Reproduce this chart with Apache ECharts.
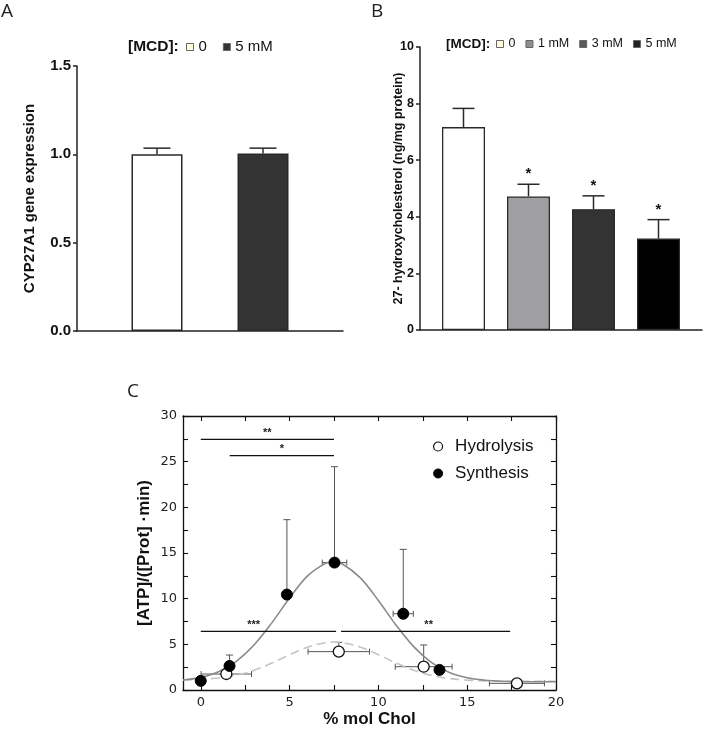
<!DOCTYPE html>
<html><head><meta charset="utf-8">
<script src="https://cdn.jsdelivr.net/npm/echarts@6/dist/echarts.min.js"></script>
<style>html,body{margin:0;padding:0;background:#fff}#c{width:704px;height:734px}</style>
</head><body><div id="c"></div>
<script>
// ---------- Panel A ----------
const aSeriesNames = ['0', '5 mM'];
const aValues = [1.00, 1.005];
const aErrors = [0.035, 0.03];
const aYTicks = [0, 0.5, 1.0, 1.5];
// ---------- Panel B ----------
const bSeriesNames = ['0', '1 mM', '3 mM', '5 mM'];
const bValues = [7.17, 4.72, 4.27, 3.23];
const bErrors = [0.66, 0.43, 0.47, 0.67];
const bSignif = ['', '*', '*', '*'];
const bYTicks = [0, 2, 4, 6, 8, 10];
// ---------- Panel C ----------
const hydroX = [1.44, 7.77, 12.55, 17.8];
const hydroY = [1.75, 4.2, 2.55, 0.73];
const hydroXErr = [1.42, 1.73, 1.6, 1.55];
const hydroYErr = [0, 1.02, 2.38, 0];
const synthX = [0, 1.62, 4.85, 7.53, 11.4, 13.44];
const synthY = [1.0, 2.63, 10.45, 13.95, 8.35, 2.2];
const synthXErr = [0, 0, 0, 0.69, 0.57, 0];
const synthYErr = [0, 1.2, 8.2, 10.5, 7.05, 0];
const fitX = [-1, 0, 1, 2, 3, 4, 5, 6, 7, 7.5, 8, 9, 10, 11, 12, 13, 14, 15, 16, 17, 18, 19, 20];
const synthFitY = [1.09, 1.38, 2.0, 3.14, 4.93, 7.35, 10.07, 12.46, 13.84, 14.0, 13.77, 12.25, 9.8, 7.09, 4.72, 3.0, 1.92, 1.34, 1.07, 0.95, 0.91, 0.9, 0.9];
const hydroFitY = [1.1, 1.18, 1.32, 1.62, 2.16, 2.95, 3.86, 4.69, 5.18, 5.25, 5.18, 4.69, 3.86, 2.95, 2.16, 1.6, 1.26, 1.08, 1.0, 0.96, 0.95, 0.95, 0.95];
const sigX1 = [0, 1.63, 0, 7.9];
const sigX2 = [7.5, 7.5, 7.62, 17.42];
const sigY = [27.45, 25.66, 6.42, 6.42];
const sigLabel = ['**', '*', '***', '**'];
const sigLabelX = [3.75, 4.57, 2.98, 12.83];
const cXTicks = [0, 2.5, 5, 7.5, 10, 12.5, 15, 17.5, 20];
const cXLabels = [0, 5, 10, 15, 20];
const cYTicks = [0, 2.5, 5, 7.5, 10, 12.5, 15, 17.5, 20, 22.5, 25, 27.5, 30];
const cYLabels = [0, 5, 10, 15, 20, 25, 30];

const FONT = 'Liberation Sans, Arial, sans-serif';
const aColors = ['#ffffff', '#333333'];
const aLegendColors = ['#fffbdc', '#333333'];
const bColors = ['#ffffff', '#a0a0a4', '#333333', '#000000'];
const bLegendColors = ['#fffbdc', '#8e8e8e', '#5a5a5a', '#222222'];
const A_BAR_W = 51, A_GAP = 55 / 51;
const B_BAR_W = 43, B_GAP = 22 / 43;

function barErrRender(n, barW, gap, capHalf, withSig) {
  return function (params, api) {
    const v = api.value(1), e = api.value(2), idx = api.value(3);
    const base = api.coord([0, v]);
    const top = api.coord([0, v + e]);
    const x = base[0] + (idx - (n - 1) / 2) * barW * (1 + gap);
    const st = { stroke: '#2a2a2a', lineWidth: 1.5 };
    const children = [
      { type: 'line', shape: { x1: x, y1: base[1], x2: x, y2: top[1] }, style: st },
      { type: 'line', shape: { x1: x - capHalf, y1: top[1], x2: x + capHalf, y2: top[1] }, style: st }
    ];
    if (withSig && bSignif[idx]) {
      children.push({ type: 'text', style: { text: bSignif[idx], x: x, y: top[1] - 10, align: 'center', verticalAlign: 'middle', font: 'bold 15px ' + FONT, fill: '#111' } });
    }
    return { type: 'group', children: children };
  };
}

function xyErrRender(params, api) {
  const x = api.value(0), y = api.value(1), xe = api.value(2), ye = api.value(3);
  const st = { stroke: '#555', lineWidth: 1 };
  const ch = [];
  const c = api.coord([x, y]);
  if (ye > 0) {
    const t = api.coord([x, y + ye]);
    ch.push({ type: 'line', shape: { x1: c[0], y1: c[1], x2: c[0], y2: t[1] }, style: st });
    ch.push({ type: 'line', shape: { x1: c[0] - 3.5, y1: t[1], x2: c[0] + 3.5, y2: t[1] }, style: st });
  }
  if (xe > 0) {
    const l = api.coord([x - xe, y]), r = api.coord([x + xe, y]);
    ch.push({ type: 'line', shape: { x1: l[0], y1: c[1], x2: r[0], y2: c[1] }, style: st });
    ch.push({ type: 'line', shape: { x1: l[0], y1: c[1] - 3, x2: l[0], y2: c[1] + 3 }, style: st });
    ch.push({ type: 'line', shape: { x1: r[0], y1: c[1] - 3, x2: r[0], y2: c[1] + 3 }, style: st });
  }
  return { type: 'group', children: ch };
}

function sigRender(params, api) {
  const x1 = api.value(0), x2 = api.value(1), y = api.value(2), lx = api.value(3), i = api.value(4);
  const p1 = api.coord([x1, y]), p2 = api.coord([x2, y]), pl = api.coord([lx, y]);
  return { type: 'group', children: [
    { type: 'line', shape: { x1: p1[0], y1: p1[1], x2: p2[0], y2: p2[1] }, style: { stroke: '#111', lineWidth: 1.3 } },
    { type: 'text', style: { text: sigLabel[i], x: pl[0], y: p1[1] - 1, align: 'center', verticalAlign: 'bottom', font: 'bold 11px ' + FONT, fill: '#222' } }
  ] };
}

const chart = echarts.init(document.getElementById('c'), null, { renderer: 'canvas' });

const series = [];
aSeriesNames.forEach((name, i) => {
  series.push({ type: 'bar', name: name, xAxisIndex: 0, yAxisIndex: 0, data: [aValues[i]],
    barWidth: A_BAR_W, barGap: (A_GAP * 100) + '%',
    itemStyle: { color: aColors[i], borderColor: '#2a2a2a', borderWidth: 1.5 } });
});
series.push({ type: 'custom', xAxisIndex: 0, yAxisIndex: 0, z: 5,
  renderItem: barErrRender(aSeriesNames.length, A_BAR_W, A_GAP, 13.5, false),
  data: aValues.map((v, i) => [0, v, aErrors[i], i]) });
bSeriesNames.forEach((name, i) => {
  series.push({ type: 'bar', name: name, xAxisIndex: 1, yAxisIndex: 1, data: [bValues[i]],
    barWidth: B_BAR_W, barGap: (B_GAP * 100) + '%',
    itemStyle: { color: bColors[i], borderColor: '#2a2a2a', borderWidth: 1.3 } });
});
series.push({ type: 'custom', xAxisIndex: 1, yAxisIndex: 1, z: 5,
  renderItem: barErrRender(bSeriesNames.length, B_BAR_W, B_GAP, 11, true),
  data: bValues.map((v, i) => [0, v, bErrors[i], i]) });

// Panel C
series.push({ type: 'custom', xAxisIndex: 2, yAxisIndex: 2, z: 2, renderItem: xyErrRender,
  data: hydroX.map((x, i) => [x, hydroY[i], hydroXErr[i], hydroYErr[i]]).concat(
        synthX.map((x, i) => [x, synthY[i], synthXErr[i], synthYErr[i]])) });
series.push({ type: 'line', name: 'Hydrolysis fit', xAxisIndex: 2, yAxisIndex: 2, z: 3, smooth: 0.35,
  showSymbol: false, lineStyle: { color: '#c4c4c4', width: 1.6, type: [9, 5] },
  data: fitX.map((x, i) => [x, hydroFitY[i]]) });
series.push({ type: 'line', name: 'Synthesis fit', xAxisIndex: 2, yAxisIndex: 2, z: 3, smooth: 0.35,
  showSymbol: false, lineStyle: { color: '#8a8a8a', width: 1.6 },
  data: fitX.map((x, i) => [x, synthFitY[i]]) });
series.push({ type: 'custom', xAxisIndex: 2, yAxisIndex: 2, z: 4, renderItem: sigRender,
  data: sigX1.map((x, i) => [x, sigX2[i], sigY[i], sigLabelX[i], i]) });
series.push({ type: 'scatter', name: 'Hydrolysis', xAxisIndex: 2, yAxisIndex: 2, z: 6, symbol: 'circle', symbolSize: 11,
  itemStyle: { color: '#ffffff', borderColor: '#111', borderWidth: 1.3, opacity: 1 },
  data: hydroX.map((x, i) => [x, hydroY[i]]) });
series.push({ type: 'scatter', name: 'Synthesis', xAxisIndex: 2, yAxisIndex: 2, z: 6, symbol: 'circle', symbolSize: 11,
  itemStyle: { color: '#000000', borderColor: '#000', borderWidth: 1, opacity: 1 },
  data: synthX.map((x, i) => [x, synthY[i]]) });

const boldAxisLine = { show: true, lineStyle: { color: '#222', width: 1.5 } };
const cLine = { show: true, onZero: false, lineStyle: { color: '#111', width: 1.3 } };
const cTickX = { show: true, inside: true, length: 5, customValues: cXTicks, lineStyle: { color: '#111', width: 1.1 } };
const cTickY = { show: true, inside: true, length: 5, customValues: cYTicks, lineStyle: { color: '#111', width: 1.1 } };

const option = {
  animation: false,
  backgroundColor: '#ffffff',
  textStyle: { fontFamily: FONT },
  grid: [
    { left: 77, right: 704 - 343, top: 66, bottom: 734 - 331, outerBoundsMode: 'none', containLabel: false },
    { left: 420, right: 2, top: 47, bottom: 734 - 330, outerBoundsMode: 'none', containLabel: false },
    { left: 183, right: 704 - 556, top: 416, bottom: 734 - 690, outerBoundsMode: 'none', containLabel: false }
  ],
  legend: [
    { left: 186, top: 39, padding: 0, itemWidth: 7, itemHeight: 7, itemGap: 16, icon: 'rect',
      textStyle: { fontFamily: FONT, fontSize: 15, color: '#111', lineHeight: 16 },
      data: aSeriesNames.map((n, i) => ({ name: n, itemStyle: { color: aLegendColors[i], borderColor: '#666', borderWidth: 1 } })) },
    { left: 496, top: 37, padding: 0, itemWidth: 7, itemHeight: 7, itemGap: 10, icon: 'rect',
      textStyle: { fontFamily: FONT, fontSize: 12.5, color: '#111', lineHeight: 14 },
      data: bSeriesNames.map((n, i) => ({ name: n, itemStyle: { color: bLegendColors[i], borderColor: '#666', borderWidth: 1 } })) },
    { left: 433, top: 438, orient: 'vertical', padding: 0, itemWidth: 24, itemHeight: 9, itemGap: 10, icon: 'circle',
      textStyle: { fontFamily: FONT, fontSize: 17, color: '#111', lineHeight: 17 },
      data: [
        { name: 'Hydrolysis', itemStyle: { color: '#fff', borderColor: '#111', borderWidth: 1.2 } },
        { name: 'Synthesis', itemStyle: { color: '#000', borderColor: '#000', borderWidth: 1 } }
      ] }
  ],
  xAxis: [
    { gridIndex: 0, type: 'category', data: ['MCD'], axisLine: boldAxisLine, axisTick: { show: false }, axisLabel: { show: false }, splitLine: { show: false } },
    { gridIndex: 1, type: 'category', data: ['MCD'], axisLine: boldAxisLine, axisTick: { show: false }, axisLabel: { show: false }, splitLine: { show: false } },
    { gridIndex: 2, type: 'value', position: 'bottom', min: -1, max: 20, axisLine: cLine, axisTick: cTickX,
      axisLabel: { show: true, customValues: cXLabels, margin: 6, fontFamily: 'DejaVu Sans', fontSize: 13, color: '#222' },
      splitLine: { show: false },
      name: '% mol Chol', nameLocation: 'middle', nameGap: 21, nameMoveOverlap: false,
      nameTextStyle: { fontFamily: FONT, fontWeight: 'bold', fontSize: 17, color: '#111' } },
    { gridIndex: 2, type: 'value', position: 'top', min: -1, max: 20, axisLine: cLine, axisTick: cTickX,
      axisLabel: { show: false }, splitLine: { show: false } }
  ],
  yAxis: [
    { gridIndex: 0, type: 'value', min: aYTicks[0], max: aYTicks[aYTicks.length - 1], interval: aYTicks[1] - aYTicks[0],
      axisLine: boldAxisLine, axisTick: { show: true, length: 4, lineStyle: { color: '#222', width: 1.5 } },
      axisLabel: { margin: 6, fontFamily: FONT, fontWeight: 'bold', fontSize: 15, color: '#111', formatter: v => v.toFixed(1) },
      splitLine: { show: false },
      name: 'CYP27A1 gene expression', nameLocation: 'middle', nameGap: 40, nameMoveOverlap: false,
      nameTextStyle: { fontFamily: FONT, fontWeight: 'bold', fontSize: 15, color: '#111' } },
    { gridIndex: 1, type: 'value', min: bYTicks[0], max: bYTicks[bYTicks.length - 1], interval: bYTicks[1] - bYTicks[0],
      axisLine: boldAxisLine, axisTick: { show: true, length: 4, lineStyle: { color: '#222', width: 1.5 } },
      axisLabel: { margin: 6, fontFamily: FONT, fontWeight: 'bold', fontSize: 12.5, color: '#111' },
      splitLine: { show: false },
      name: '27- hydroxycholesterol (ng/mg protein)', nameLocation: 'middle', nameGap: 15, nameMoveOverlap: false,
      nameTextStyle: { fontFamily: FONT, fontWeight: 'bold', fontSize: 12.5, color: '#111' } },
    { gridIndex: 2, type: 'value', position: 'left', min: 0, max: 30, axisLine: cLine, axisTick: cTickY,
      axisLabel: { show: true, customValues: cYLabels, margin: 6, fontFamily: 'DejaVu Sans', fontSize: 13, color: '#222' },
      splitLine: { show: false },
      name: '[ATP]/([Prot] \u00B7min)', nameLocation: 'middle', nameGap: 30, nameMoveOverlap: false,
      nameTextStyle: { fontFamily: FONT, fontWeight: 'bold', fontSize: 17, color: '#111' } },
    { gridIndex: 2, type: 'value', position: 'right', min: 0, max: 30, axisLine: cLine, axisTick: cTickY,
      axisLabel: { show: false }, splitLine: { show: false } }
  ],
  graphic: [
    { type: 'text', left: 1, top: 2, style: { text: 'A', font: '19px "Open Sans", sans-serif', fill: '#222' } },
    { type: 'text', left: 371, top: 2, style: { text: 'B', font: '19px "Open Sans", sans-serif', fill: '#222' } },
    { type: 'text', left: 127, top: 382, style: { text: 'C', font: '19px "Open Sans", sans-serif', fill: '#222' } },
    { type: 'text', left: 128, top: 39, style: { text: '[MCD]:', font: 'bold 15.5px ' + FONT, fill: '#111' } },
    { type: 'text', left: 446, top: 37, style: { text: '[MCD]:', font: 'bold 13.5px ' + FONT, fill: '#111' } }
  ],
  series: series
};
chart.setOption(option);
</script>
</body></html>
